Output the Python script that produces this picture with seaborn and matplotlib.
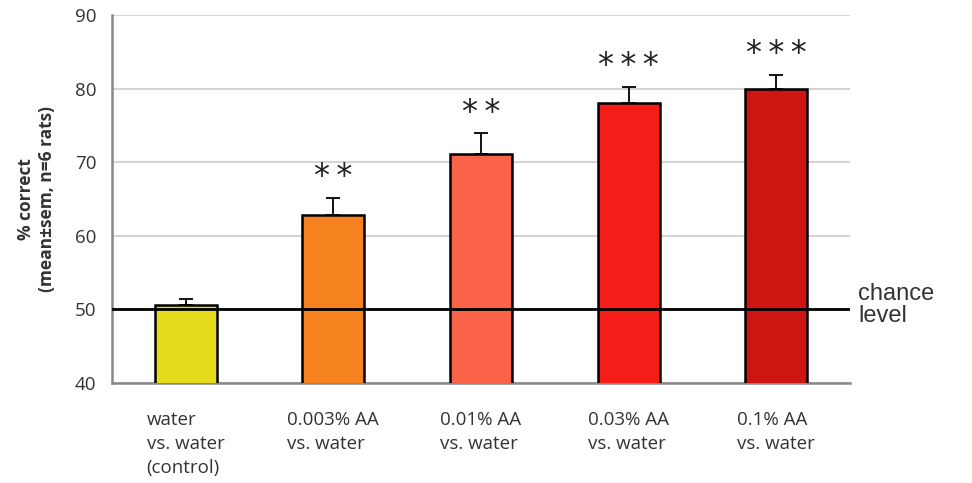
import numpy as np
import pandas as pd
import seaborn as sns
import matplotlib.pyplot as plt

sns.set_style("white")
plt.rcParams["font.family"] = ["Open Sans", "DejaVu Sans"]

# data
conditions = ["water\nvs. water\n(control)", "0.003% AA\nvs. water",
              "0.01% AA\nvs. water", "0.03% AA\nvs. water", "0.1% AA\nvs. water"]
pct_correct = [50.6, 62.8, 71.1, 78.0, 80.0]
sem = [0.8, 2.3, 2.8, 2.2, 1.9]
stars = ["", "**", "**", "***", "***"]
colors = ["#E5DA1C", "#F5821E", "#FA6347", "#F41D17", "#CD1612"]

df = pd.DataFrame({"condition": conditions, "pct": pct_correct})

fig = plt.figure(figsize=(9.72, 4.83), dpi=100)
ax = fig.add_axes([0.115, 0.207, 0.7595, 0.762])

sns.barplot(data=df, x="condition", y="pct", hue="condition", palette=colors,
            saturation=1, legend=False, errorbar=None, width=0.42,
            edgecolor="black", linewidth=1.8, ax=ax, zorder=3)

x = np.arange(len(conditions))
ax.errorbar(x, pct_correct, yerr=[np.zeros(len(sem)), sem], fmt="none",
            ecolor="black", elinewidth=1.3, capsize=5, capthick=1.3, zorder=2)

for xi, v, e, s in zip(x, pct_correct, sem, stars):
    if s:
        ax.text(xi, v + e + 0.8, "\u2009".join(s), ha="center", va="bottom",
                fontsize=23, family="DejaVu Sans", color="#222222")

ax.axhline(50, color="black", lw=2, zorder=5)
ax.text(1.011, 50.6, "chance\nlevel", transform=ax.get_yaxis_transform(),
        ha="left", va="center", fontsize=17, family="Liberation Sans",
        color="#333333", linespacing=1.05, clip_on=False)

ax.set_ylim(40, 90)
ax.set_xlim(-0.5, 4.5)
ax.set_yticks(range(40, 91, 10))
ax.yaxis.grid(True, color="#d4d4d4", lw=1.5, zorder=0)
ax.set_axisbelow(True)

ax.set_xticks(x)
ax.set_xticklabels(conditions, ha="center", multialignment="left",
                   fontsize=13.5, color="#333333", linespacing=1.45)
ax.set_xticks(np.arange(-0.5, 5, 1), minor=True)
ax.tick_params(axis="x", which="major", length=0, pad=20)
ax.tick_params(axis="x", which="minor", length=5, width=1.5, color="#888888",
               direction="out")
ax.tick_params(axis="y", length=6, width=1.5, color="#888888", direction="out",
               labelsize=13.5, labelcolor="#333333", pad=5)

ax.set_xlabel("")
ax.set_ylabel("% correct\n(mean±sem, n=6 rats)", fontsize=12.5,
              fontweight="bold", color="#333333", labelpad=14)

for side in ["top", "right"]:
    ax.spines[side].set_visible(False)
for side in ["left", "bottom"]:
    ax.spines[side].set_color("#888888")
    ax.spines[side].set_linewidth(1.8)

fig.savefig("out.png", dpi=100)
